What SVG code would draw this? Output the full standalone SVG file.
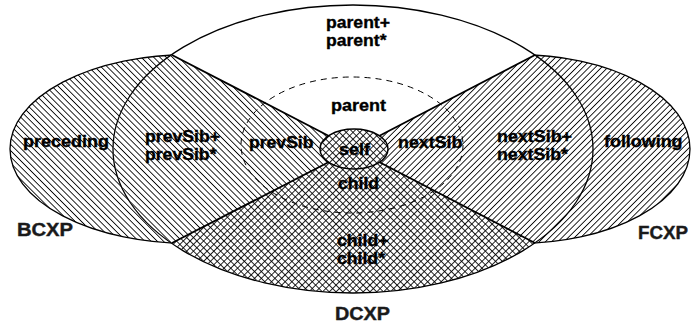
<svg xmlns="http://www.w3.org/2000/svg" width="691" height="326" viewBox="0 0 691 326">
<style>
.lbl{font-family:"Liberation Sans",Arial,sans-serif;font-weight:bold;font-size:16px;fill:#000;stroke:#000;stroke-width:0.35}
.big{font-family:"Liberation Sans",Arial,sans-serif;font-weight:bold;font-size:18px;fill:#1a1a1a;stroke:#1a1a1a;stroke-width:0.4}
.outline{fill:none;stroke:#000;stroke-width:1.3}
.edge{fill:none;stroke:#000;stroke-width:1.8;stroke-linejoin:round}
</style>
<defs>
<pattern id="hatchB" width="4.4" height="4.4" patternUnits="userSpaceOnUse" patternTransform="rotate(45)">
<rect width="4.4" height="4.4" fill="#fff"/>
<line x1="0" y1="2.2" x2="4.4" y2="2.2" stroke="#000" stroke-width="0.85"/>
</pattern>
<pattern id="hatchF" width="4.4" height="4.4" patternUnits="userSpaceOnUse" patternTransform="rotate(-45)">
<rect width="4.4" height="4.4" fill="#fff"/>
<line x1="0" y1="2.2" x2="4.4" y2="2.2" stroke="#000" stroke-width="0.85"/>
</pattern>
<pattern id="cross" width="4.8" height="4.8" patternUnits="userSpaceOnUse" patternTransform="rotate(45)">
<rect width="4.8" height="4.8" fill="#fff"/>
<line x1="0" y1="2.4" x2="4.8" y2="2.4" stroke="#000" stroke-width="0.85"/>
<line x1="2.4" y1="0" x2="2.4" y2="4.8" stroke="#000" stroke-width="0.85"/>
</pattern>
</defs>
<rect width="691" height="326" fill="#fff"/>

<g id="BCXP">
<ellipse cx="190" cy="149" rx="180" ry="94.5" fill="url(#hatchB)" stroke="#000" stroke-width="1.3"/>
</g>
<g id="FCXP">
<ellipse cx="517" cy="149" rx="173" ry="94.5" fill="url(#hatchF)" stroke="#000" stroke-width="1.3"/>
</g>
<g id="parent-plus">
<ellipse cx="353" cy="149" rx="240" ry="144" fill="#fff" stroke="none"/>
</g>
<g id="prevSib-plus">
<path d="M172,55 L354,149 L172,243 A240,144 0 0 1 172,55 Z" fill="url(#hatchB)"/>
</g>
<g id="nextSib-plus">
<path d="M535,55 L354,149 L535,243 A240,144 0 0 0 535,55 Z" fill="url(#hatchF)"/>
</g>
<g id="DCXP">
<path d="M172,243 L354,149 L535,243 A240,144 0 0 1 172,243 Z" fill="url(#cross)"/>
</g>
<g id="parent-plus-outline">
<ellipse class="outline" cx="353" cy="149" rx="240" ry="144"/>
</g>
<g id="connectors">
<path class="edge" d="M172,55 L354,149 L535,55"/>
<path class="edge" d="M172,243 L354,149 L535,243"/>
</g>
<g id="parent">
<ellipse cx="352" cy="145" rx="111" ry="68" fill="none" stroke="#000" stroke-width="1" stroke-dasharray="6,5"/>
</g>
<g id="self">
<ellipse cx="354" cy="149" rx="34" ry="20" fill="url(#cross)" stroke="#000" stroke-width="1.5"/>
<text class="lbl" x="339" y="155" textLength="31" lengthAdjust="spacingAndGlyphs">self</text>
</g>

<g id="labels">
<text class="lbl" x="326" y="27.5" textLength="64" lengthAdjust="spacingAndGlyphs">parent+</text>
<text class="lbl" x="326" y="45.5" textLength="60.5" lengthAdjust="spacingAndGlyphs">parent*</text>
<text class="lbl" x="331" y="111" textLength="55" lengthAdjust="spacingAndGlyphs">parent</text>
<text class="lbl" x="23" y="147" textLength="86" lengthAdjust="spacingAndGlyphs">preceding</text>
<text class="lbl" x="145" y="142" textLength="75" lengthAdjust="spacingAndGlyphs">prevSib+</text>
<text class="lbl" x="145" y="160" textLength="71.5" lengthAdjust="spacingAndGlyphs">prevSib*</text>
<text class="lbl" x="249" y="148" textLength="64.5" lengthAdjust="spacingAndGlyphs">prevSib</text>
<text class="lbl" x="398" y="148" textLength="64.5" lengthAdjust="spacingAndGlyphs">nextSib</text>
<text class="lbl" x="497" y="142" textLength="75" lengthAdjust="spacingAndGlyphs">nextSib+</text>
<text class="lbl" x="497" y="160" textLength="71" lengthAdjust="spacingAndGlyphs">nextSib*</text>
<text class="lbl" x="604" y="147" textLength="78.5" lengthAdjust="spacingAndGlyphs">following</text>
<text class="lbl" x="338" y="189" textLength="41" lengthAdjust="spacingAndGlyphs">child</text>
<text class="lbl" x="337" y="246" textLength="51.5" lengthAdjust="spacingAndGlyphs">child+</text>
<text class="lbl" x="337" y="264" textLength="48" lengthAdjust="spacingAndGlyphs">child*</text>
<text class="big" x="17" y="236" textLength="56" lengthAdjust="spacingAndGlyphs">BCXP</text>
<text class="big" x="638" y="239" textLength="50" lengthAdjust="spacingAndGlyphs">FCXP</text>
<text class="big" x="335" y="320" textLength="55" lengthAdjust="spacingAndGlyphs">DCXP</text>
</g>
</svg>
